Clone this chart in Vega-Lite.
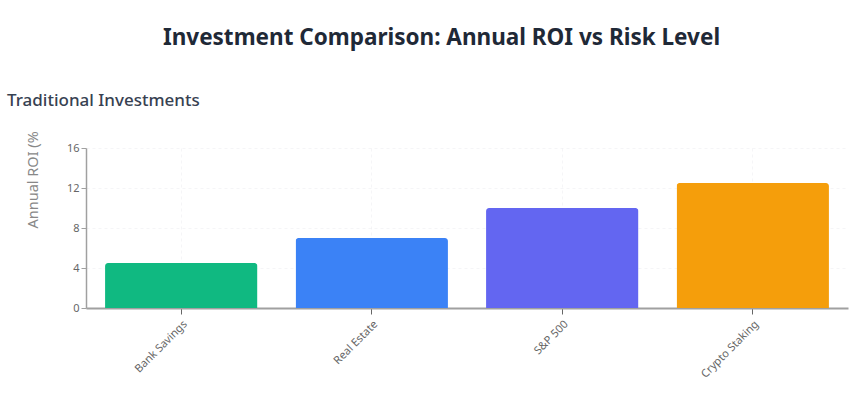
{
  "$schema": "https://vega.github.io/schema/vega-lite/v6.json",
  "background": "white",
  "autosize": {"type": "pad"},
  "padding": {"left": 7, "top": 27, "right": 11, "bottom": 5},
  "title": {
    "text": "Investment Comparison: Annual ROI vs Risk Level",
    "font": "Noto Sans",
    "fontSize": 22.5,
    "fontWeight": "bold",
    "color": "#1f2937",
    "anchor": "middle",
    "dx": 14,
    "offset": 42
  },
  "vconcat": [
    {
      "width": 762,
      "height": 160,
      "title": {
        "text": "Traditional Investments",
        "font": "Noto Sans",
        "fontSize": 17,
        "fontWeight": 500,
        "color": "#374151",
        "anchor": "start",
        "frame": "group",
        "dx": -79,
        "offset": 21
      },
      "data": {
        "values": [
          {"investment": "Bank Savings", "roi": 4.5, "color": "#10b981"},
          {"investment": "Real Estate", "roi": 7.0, "color": "#3b82f6"},
          {"investment": "S&P 500", "roi": 10.0, "color": "#6366f1"},
          {"investment": "Crypto Staking", "roi": 12.5, "color": "#f59e0b"}
        ]
      },
      "mark": {"type": "bar", "cornerRadiusTopLeft": 3, "cornerRadiusTopRight": 3},
      "encoding": {
        "x": {
          "field": "investment",
          "type": "nominal",
          "sort": null,
          "scale": {"paddingInner": 0.2, "paddingOuter": 0.1},
          "axis": {
            "title": null,
            "labelAngle": -45,
            "labelAlign": "right",
            "labelBaseline": "top",
            "labelFont": "Noto Sans",
            "labelFontSize": 11,
            "labelColor": "#666666",
            "labelPadding": 4,
            "domainColor": "#a0a0a0",
            "domainWidth": 2,
            "tickColor": "#666666",
            "tickSize": 6,
            "grid": true,
            "gridColor": "#e5e7eb",
            "gridOpacity": 0.4,
            "gridDash": [3, 3]
          }
        },
        "y": {
          "field": "roi",
          "type": "quantitative",
          "scale": {"domain": [0, 16], "nice": false},
          "axis": {
            "title": "Annual ROI (%",
            "titleFont": "Noto Sans",
            "titleFontSize": 14.5,
            "titleFontWeight": "normal",
            "titleColor": "#888888",
            "titleAnchor": "middle",
            "titleAlign": "left",
            "titlePadding": 26,
            "values": [0, 4, 8, 12, 16],
            "labelFont": "Noto Sans",
            "labelFontSize": 11,
            "labelColor": "#666666",
            "domainColor": "#a0a0a0",
            "domainWidth": 1.5,
            "tickColor": "#a0a0a0",
            "tickSize": 5,
            "grid": true,
            "gridColor": "#e5e7eb",
            "gridOpacity": 0.4,
            "gridDash": [3, 3]
          }
        },
        "color": {"field": "color", "type": "nominal", "scale": null, "legend": null}
      }
    }
  ],
  "config": {"view": {"stroke": null}}
}
